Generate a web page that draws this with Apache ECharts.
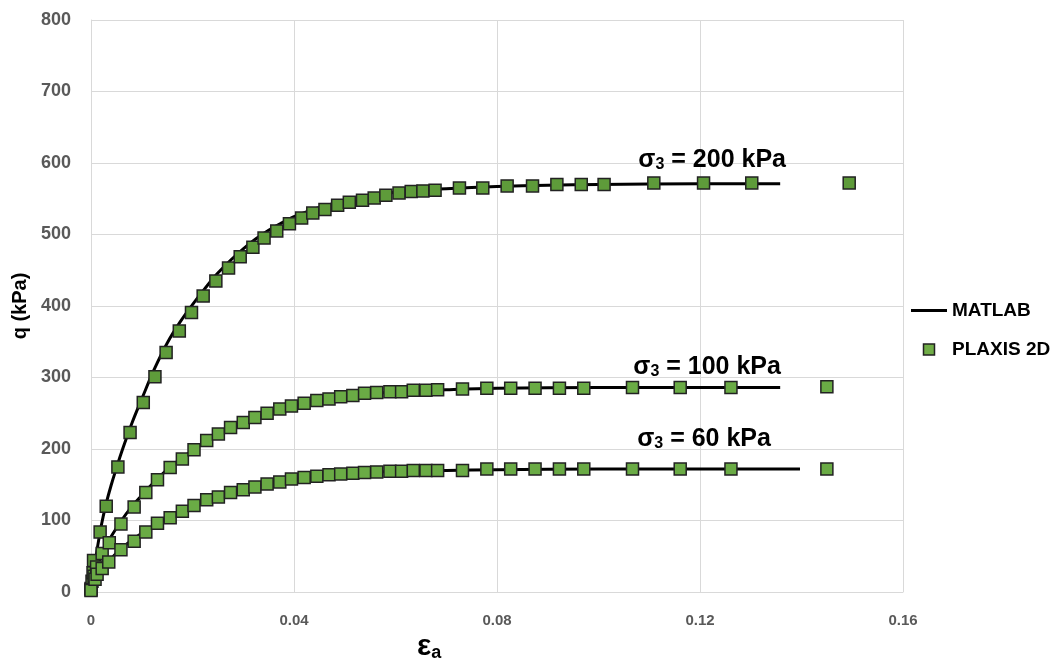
<!DOCTYPE html>
<html>
<head>
<meta charset="utf-8">
<script src="https://cdn.jsdelivr.net/npm/echarts@6/dist/echarts.min.js"></script>
<style>
html,body{margin:0;padding:0;background:#fff;}
#chart{width:1054px;height:662px;}
</style>
</head>
<body>
<div id="chart"></div>
<script>
// ---- axis ticks ----
const xTicks = [0, 0.04, 0.08, 0.12, 0.16];
const yTicks = [0, 100, 200, 300, 400, 500, 600, 700, 800];

// ---- PLAXIS 2D points ----
const plaxis200X = [0, 0.0002, 0.0004, 0.0005, 0.0018, 0.0030, 0.0053, 0.0077, 0.0103, 0.0126, 0.0148, 0.0174, 0.0198, 0.0221, 0.0246, 0.0271, 0.0294, 0.0319, 0.0341, 0.0366, 0.0391, 0.0415, 0.0437, 0.0461, 0.0486, 0.0509, 0.0535, 0.0558, 0.0581, 0.0607, 0.0631, 0.0654, 0.0678, 0.0726, 0.0772, 0.0820, 0.0870, 0.0918, 0.0966, 0.1011, 0.1109, 0.1207, 0.1302, 0.1494];
const plaxis200Y = [5, 15, 27, 44, 84, 120, 175, 223, 265, 301, 335, 365, 391, 414, 435, 453, 469, 482, 495, 505, 515, 523, 530, 535, 541, 545, 548, 551, 555, 558, 560, 561, 562, 565, 565, 568, 568, 570, 570, 570, 572, 572, 572, 572];

const plaxis100X = [0, 0.0006, 0.0011, 0.0022, 0.0036, 0.0059, 0.0085, 0.0108, 0.0131, 0.0156, 0.0180, 0.0203, 0.0228, 0.0251, 0.0275, 0.0300, 0.0323, 0.0347, 0.0372, 0.0395, 0.0420, 0.0445, 0.0469, 0.0492, 0.0516, 0.0539, 0.0563, 0.0589, 0.0612, 0.0635, 0.0660, 0.0683, 0.0732, 0.0780, 0.0827, 0.0875, 0.0923, 0.0971, 0.1067, 0.1161, 0.1261, 0.1450];
const plaxis100Y = [3, 22, 35, 54, 69, 95, 119, 139, 157, 174, 186, 199, 212, 221, 230, 237, 244, 250, 256, 260, 264, 268, 270, 273, 275, 278, 279, 280, 280, 282, 282, 283, 284, 285, 285, 285, 285, 285, 286, 286, 286, 287];

const plaxis60X = [0, 0.0008, 0.0012, 0.0022, 0.0035, 0.0059, 0.0085, 0.0108, 0.0131, 0.0156, 0.0180, 0.0203, 0.0228, 0.0251, 0.0275, 0.0300, 0.0323, 0.0347, 0.0372, 0.0395, 0.0420, 0.0445, 0.0469, 0.0492, 0.0516, 0.0539, 0.0563, 0.0589, 0.0612, 0.0635, 0.0660, 0.0683, 0.0732, 0.0780, 0.0827, 0.0875, 0.0923, 0.0971, 0.1067, 0.1161, 0.1261, 0.1450];
const plaxis60Y = [2, 18, 25, 33, 42, 59, 71, 84, 96, 104, 113, 121, 129, 133, 139, 143, 147, 151, 154, 158, 160, 162, 164, 165, 166, 167, 168, 169, 169, 170, 170, 170, 170, 172, 172, 172, 172, 172, 172, 172, 172, 172];

// ---- MATLAB curves ----
const matlab200X = [0, 0.001, 0.002, 0.003, 0.004, 0.005, 0.006, 0.008, 0.010, 0.0125, 0.015, 0.0175, 0.020, 0.0225, 0.025, 0.0275, 0.030, 0.0325, 0.035, 0.0375, 0.040, 0.045, 0.050, 0.055, 0.060, 0.065, 0.070, 0.080, 0.090, 0.100, 0.120, 0.1358];
const matlab200Y = [0, 50, 92, 124, 150, 173, 195, 235, 270, 312, 348, 377, 402, 425, 446, 464, 480, 494, 506, 516, 525, 538, 547, 554, 559, 562, 564, 567, 569, 570, 571, 571];

const matlab100X = [0, 0.001, 0.002, 0.003, 0.004, 0.006, 0.008, 0.010, 0.0125, 0.015, 0.0175, 0.020, 0.025, 0.030, 0.035, 0.040, 0.045, 0.050, 0.055, 0.060, 0.070, 0.080, 0.100, 0.120, 0.1358];
const matlab100Y = [0, 30, 50, 65, 78, 100, 119, 135, 154, 171, 185, 198, 221, 238, 251, 261, 268, 273, 277, 280, 283, 285, 286, 286, 286];

const matlab60X = [0, 0.001, 0.002, 0.003, 0.004, 0.006, 0.008, 0.010, 0.0125, 0.015, 0.0175, 0.020, 0.025, 0.030, 0.035, 0.040, 0.045, 0.050, 0.055, 0.060, 0.070, 0.080, 0.100, 0.120, 0.1397];
const matlab60Y = [0, 18, 30, 39, 47, 61, 72, 82, 93, 103, 112, 120, 133, 144, 152, 158, 162, 165, 167, 169, 170, 171, 172, 172, 172];

// ---- curve annotations (data coordinates of label centres) ----
const annoText = ['200', '100', '60'];
const annoX = [0.1224, 0.1214, 0.1208];
const annoY = [606, 316, 215];

const legendNames = ['MATLAB', 'PLAXIS 2D'];

const zip = (xs, ys) => xs.map((x, i) => [x, ys[i]]);

const lineSeries = (xs, ys) => ({
  type: 'line', name: legendNames[0],
  data: zip(xs, ys), symbol: 'none', smooth: 0.4,
  lineStyle: {color: '#000', width: 3}, itemStyle: {color: '#000'}, z: 2
});
const pointSeries = (xs, ys, fill) => ({
  type: 'scatter', name: legendNames[1],
  data: zip(xs, ys), symbol: 'rect', symbolSize: 12,
  itemStyle: {color: fill, borderColor: '#222', borderWidth: 1.5, opacity: 1}, z: 3
});

const labelFont = 'Liberation Sans';

const chart = echarts.init(document.getElementById('chart'));
chart.setOption({
  backgroundColor: '#fff',
  animation: false,
  grid: {left: 91, top: 20, right: 151, bottom: 70},
  legend: {
    data: [
      {name: legendNames[0], icon: 'path://M0,0L36,0L36,3.2L0,3.2Z'},
      {name: legendNames[1], icon: 'path://M0,0L10,0L10,10L0,10Z',
        itemStyle: {color: '#70AD47', borderColor: '#222', borderWidth: 1.5}}
    ],
    orient: 'vertical', left: 906, top: 296,
    itemWidth: 36, itemHeight: 11, itemGap: 20,
    symbolKeepAspect: true,
    textStyle: {fontFamily: labelFont, fontWeight: 'bold', fontSize: 19, color: '#000'}
  },
  xAxis: {
    type: 'value', min: xTicks[0], max: xTicks[xTicks.length - 1], interval: xTicks[1] - xTicks[0],
    axisLine: {show: true, lineStyle: {color: '#D9D9D9'}},
    axisTick: {show: false},
    axisLabel: {margin: 21, color: '#595959', fontFamily: labelFont, fontWeight: 'bold', fontSize: 15,
      formatter: v => String(+v.toFixed(2))},
    splitLine: {show: true, lineStyle: {color: '#D9D9D9'}}
  },
  yAxis: {
    type: 'value', min: yTicks[0], max: yTicks[yTicks.length - 1], interval: yTicks[1] - yTicks[0],
    name: 'q (kPa)', nameLocation: 'middle', nameGap: 59,
    nameTextStyle: {fontFamily: labelFont, fontWeight: 'bold', fontSize: 20, color: '#000'},
    axisLine: {show: true, lineStyle: {color: '#D9D9D9'}},
    axisTick: {show: false},
    axisLabel: {margin: 20, color: '#595959', fontFamily: labelFont, fontWeight: 'bold', fontSize: 18},
    splitLine: {show: true, lineStyle: {color: '#D9D9D9'}}
  },
  series: [
    lineSeries(matlab200X, matlab200Y),
    lineSeries(matlab100X, matlab100Y),
    lineSeries(matlab60X, matlab60Y),
    pointSeries(plaxis200X, plaxis200Y, '#5E9B3A'),
    pointSeries(plaxis100X, plaxis100Y, '#6AAB45'),
    pointSeries(plaxis60X, plaxis60Y, '#6AAB45')
  ]
});

// Annotations placed through the chart's own coordinate conversion
const graphics = [{
  type: 'text', left: 417, top: 632,
  style: {
    text: '{e|ε}{a|a}',
    rich: {
      e: {fontFamily: labelFont, fontWeight: 'bold', fontSize: 30, fill: '#000'},
      a: {fontFamily: labelFont, fontWeight: 'bold', fontSize: 18, fill: '#000', verticalAlign: 'bottom'}
    }
  }
}];
annoText.forEach((t, i) => {
  const p = chart.convertToPixel({gridIndex: 0}, [annoX[i], annoY[i]]);
  graphics.push({
    type: 'text', x: p[0], y: p[1], z: 10,
    style: {
      text: '{s|σ}{sub|3}{s| = ' + t + ' kPa}',
      align: 'center', verticalAlign: 'middle',
      rich: {
        s: {fontFamily: labelFont, fontWeight: 'bold', fontSize: 25, fill: '#000', verticalAlign: 'bottom', lineHeight: 27},
        sub: {fontFamily: labelFont, fontWeight: 'bold', fontSize: 16, fill: '#000', verticalAlign: 'bottom', lineHeight: 22}
      }
    }
  });
});
chart.setOption({graphic: graphics});
</script>
</body>
</html>
